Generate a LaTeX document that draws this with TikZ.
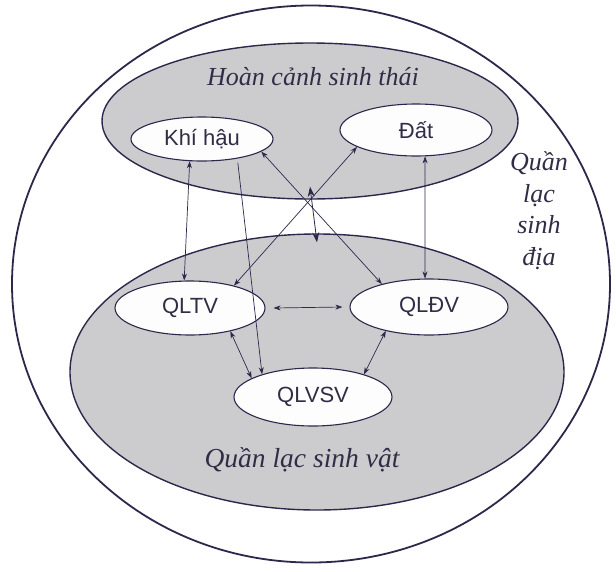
\documentclass[tikz,border=0pt]{standalone}
\usepackage{fontspec}
\setmainfont{Liberation Serif}
\newfontfamily\labelsans{Liberation Sans}
\usetikzlibrary{arrows.meta,shapes.geometric,calc}
\definecolor{inkline}{RGB}{45,40,75}
\definecolor{inktext}{RGB}{50,45,70}
\definecolor{shade}{RGB}{204,204,207}
\definecolor{paper}{RGB}{253,253,253}
\begin{document}
\begin{tikzpicture}[x=1pt,y=-1pt,
  region/.style={ellipse, draw=inkline, line width=1.4pt, fill=shade, inner sep=0pt},
  part/.style={ellipse, draw=inkline, line width=1.1pt, fill=paper, inner sep=0pt,
    text=inktext, font=\labelsans\fontsize{22}{26}\selectfont},
  link/.style={draw=inkline, line width=0.7pt,
    {Stealth[length=7pt,width=5pt]}-{Stealth[length=7pt,width=5pt]}},
  onelink/.style={draw=inkline, line width=0.7pt, -{Stealth[length=7pt,width=5pt]}},
  biglink/.style={draw=inkline, line width=0.8pt,
    {Stealth[length=10pt,width=7pt]}-{Stealth[length=10pt,width=7pt]}},
  title/.style={text=inktext, font=\itshape\fontsize{26}{31.5}\selectfont}
]
\fill[white] (0,0) rectangle (616,571);
\useasboundingbox (0,0) rectangle (616,571);

% outer boundary: the biogeocoenosis
\node[ellipse, draw=inkline, line width=1.8pt, minimum width=598pt,
      minimum height=557pt, inner sep=0pt] (world) at (311,284) {};

% environment and living community
\node[region, minimum width=416pt, minimum height=156pt] (env) at (310,121) {};
\node[region, minimum width=494pt, minimum height=276pt] (bio) at (317,372) {};

% region titles
\node[title, anchor=base] (envlabel) at (313,85) {Hoàn cảnh sinh thái};
\node[title, anchor=base, font=\itshape\fontsize{27.5}{31.5}\selectfont]
  (biolabel) at (302,467) {Quần lạc sinh vật};
\node[title, align=center, anchor=base] (worldlabel) at (539,265) {Quần\\lạc\\sinh\\địa};

% components
\node[part, minimum width=142pt, minimum height=44pt] (climate) at (202,139) {Khí hậu};
\node[part, minimum width=152pt, minimum height=52pt] (soil) at (416,130) {Đất};
\node[part, minimum width=150pt, minimum height=54pt] (flora) at (190,308) {QLTV};
\node[part, minimum width=158pt, minimum height=56pt] (fauna) at (429,307) {QLĐV};
\node[part, minimum width=158pt, minimum height=58pt] (microbe) at (313,397) {QLVSV};

% interactions
\draw[link] (climate.241) -- (flora.102.5);
\draw[onelink, shorten <=4pt] (climate.331.5) -- (microbe.156);
\draw[link] (climate.348) -- (fauna.154);
\draw[link] (soil.196.6) -- (flora.27.5);
\draw[link] (soil.289) -- (fauna.98.4);
\draw[link] ([xshift=8pt]flora.east) -- ([xshift=-7pt]fauna.west);
\draw[link] (flora.330) -- (microbe.163);
\draw[link] (fauna.209) -- (microbe.24);

% exchange between environment and community
\coordinate (envfoot) at ([yshift=13pt]env.south);
\coordinate (biohead) at ([yshift=-9pt]bio.north);
\draw[biglink] (envfoot) -- (biohead);
\end{tikzpicture}
\end{document}
